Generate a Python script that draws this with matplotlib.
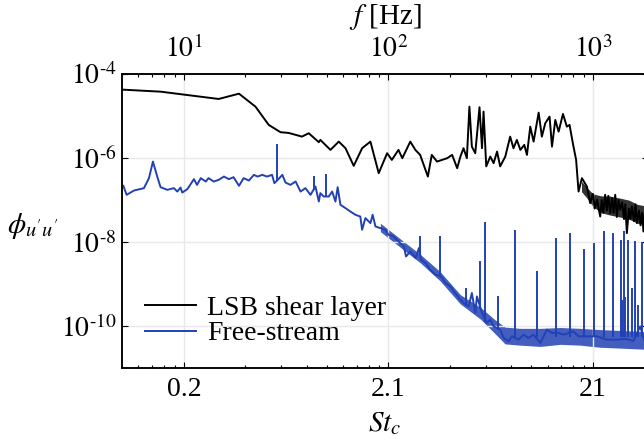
import numpy as np
import matplotlib.pyplot as plt
from matplotlib.ticker import LogLocator, NullFormatter, NullLocator

plt.rcParams['font.family'] = 'serif'
plt.rcParams['font.serif'] = ['Liberation Serif', 'DejaVu Serif']
plt.rcParams['mathtext.fontset'] = 'stix'

# ---- data (f in Hz, PSD as log10 exponent) ----
f_lsb = np.array([
    5.06, 7.69, 14.8, 18.6, 22.4, 26.0, 29.7, 32.5, 37.8, 40.8,
    45.7, 46.5, 52.1, 57.2, 61.7, 67.7, 74.4, 81.7, 89.7, 98.6,
    104, 112, 117, 128, 135.5, 143, 156, 163, 173, 183,
    194, 205, 217, 225, 233, 242, 249, 256, 266, 279,
    287, 292, 301, 315, 327, 340, 352, 373, 394, 409,
    425, 442, 462, 476, 494, 513, 543, 563, 585, 614,
    631, 655, 680, 714, 746, 769, 798, 828, 851, 884,
    935, 970, 1000, 1020, 1047, 1086, 1105, 1125, 1148, 1170,
    1190, 1216, 1240, 1262, 1286, 1310, 1335, 1361, 1390, 1420,
    1440, 1466, 1500, 1525, 1552, 1590, 1615, 1641, 1680, 1710,
    1740, 1767, 1790])
exp_lsb = np.array([
    -4.373, -4.42, -4.594, -4.468, -4.777, -5.211, -5.385, -5.401, -5.489, -5.409,
    -5.622, -5.568, -5.805, -5.608, -5.765, -6.185, -5.765, -5.608, -6.359, -5.884,
    -6.043, -5.805, -6.002, -5.608, -5.805, -5.924, -6.439, -5.924, -6.083, -6.043,
    -6.002, -5.924, -6.240, -5.964, -5.765, -6.002, -4.777, -5.727, -5.884, -4.791,
    -5.765, -4.895, -6.197, -5.964, -6.121, -5.846, -6.197, -5.964, -5.489, -5.765,
    -5.568, -5.805, -5.686, -5.924, -5.252, -5.608, -4.919, -5.489, -5.171, -5.014,
    -5.727, -5.093, -5.371, -4.950, -5.252, -5.211, -5.646, -6.043, -6.796, -6.477,
    -6.677, -7.071, -6.85, -7.2, -6.993, -7.390, -7.0, -7.3, -6.874, -7.25,
    -6.9, -7.309, -6.95, -7.3, -6.874, -7.4, -7.0, -7.230, -7.05, -7.45,
    -7.1, -7.784, -7.2, -7.45, -7.152, -7.5, -7.1, -7.546, -7.25, -7.6,
    -7.3, -7.746, -7.35])

# noisy tail band of the shear-layer spectrum
f_lsb_band = np.array([880, 935, 1000, 1100, 1200, 1350, 1500, 1650, 1860])
exp_lsb_hi = np.array([-6.55, -6.7, -6.85, -6.9, -6.9, -6.95, -7.0, -7.1, -7.15])
exp_lsb_lo = np.array([-6.8, -6.95, -7.15, -7.3, -7.35, -7.4, -7.45, -7.55, -7.6])

f_fs = np.array([
    5.06, 5.25, 5.70, 6.38, 6.75, 7.06, 7.41, 7.69, 8.30, 8.94,
    9.29, 9.63, 9.82, 10.4, 11.2, 11.6, 12.1, 12.8, 13.2, 14.0,
    14.8, 15.7, 16.6, 17.5, 18.6, 19.6, 20.8, 22.0, 22.9, 24.2,
    25.5, 27.0, 27.7, 28.8, 30.3, 31.4, 33.2, 35.2, 37.2, 39.3,
    41.6, 44.0, 45.7, 46.5, 48.3, 51.1, 53.1, 55.1, 56.5, 58.3,
    61.7, 65.2, 69.0, 72.9, 74.4, 77.2, 81.7, 83.8, 86.5, 91.4,
    96.6, 100.2, 106, 112, 119, 122, 128, 136, 141, 144.5,
    152, 160, 170, 181, 190, 201, 212, 225, 238, 247,
    256, 266, 271, 287, 303, 315, 327, 352, 366, 387,
    402, 433, 458, 484, 513, 553, 596, 631, 679, 718,
    804, 851, 935, 1047, 1170, 1310, 1450, 1580, 1703, 1790])
exp_fs = np.array([
    -6.660, -6.874, -6.772, -6.715, -6.477, -6.083, -6.439, -6.691, -6.755, -6.715,
    -6.796, -6.701, -6.820, -6.739, -6.501, -6.637, -6.477, -6.558, -6.477, -6.558,
    -6.518, -6.439, -6.501, -6.454, -6.660, -6.477, -6.534, -6.399, -6.439, -6.399,
    -6.439, -6.399, -6.596, -6.518, -6.399, -6.582, -6.637, -6.558, -6.796, -6.715,
    -6.874, -6.677, -7.033, -6.834, -6.914, -6.914, -6.796, -7.033, -6.691, -7.112,
    -7.190, -7.271, -7.349, -7.390, -7.705, -7.428, -7.546, -7.349, -7.627, -7.665,
    -7.705, -7.824, -7.865, -7.983, -8.102, -8.340, -8.221, -8.378, -8.140, -8.418,
    -8.496, -8.656, -8.774, -8.815, -8.972, -9.052, -9.209, -9.368, -9.487, -9.527,
    -9.209, -9.684, -9.290, -9.684, -9.922, -9.843, -10.002, -10.081, -10.278, -10.359,
    -10.240, -10.318, -10.200, -10.278, -10.200, -10.397, -10.081, -10.159, -10.159, -10.200,
    -10.121, -10.240, -10.240, -10.240, -10.318, -10.318, -10.30, -10.35, -10.002, -10.35])

# noise band of the free-stream spectrum
f_fs_band = np.array([91.4, 115, 144, 179, 225, 282, 333, 372, 442, 553, 693, 868, 1086, 1361, 1860])
exp_fs_hi = np.array([-7.55, -7.93, -8.30, -8.70, -9.25, -9.55, -9.85, -10.02,
                      -10.05, -10.05, -10.03, -10.05, -10.08, -10.10, -10.13])
exp_fs_lo = np.array([-7.75, -8.13, -8.50, -8.92, -9.47, -9.83, -10.18, -10.42,
                      -10.45, -10.48, -10.43, -10.45, -10.50, -10.52, -10.55])

# narrow tonal peaks of the free-stream spectrum
f_peaks = np.array([28.4, 43.2, 49.8, 142, 178, 240, 279, 298, 344, 417, 536, 660, 774,
                    900, 1015, 1136, 1261, 1370, 1390, 1422, 1440, 1493, 1560, 1611, 1660, 1745])
exp_peak_top = np.array([-5.663, -6.423, -6.375, -7.865, -7.848, -9.09, -8.458, -7.532, -9.290,
                         -7.722, -8.696, -7.903, -7.784, -8.164, -8.021, -7.746, -7.784, -7.943,
                         -9.37, -7.746, -9.3, -7.943, -9.1, -7.983, -9.5, -8.0])
exp_peak_base = np.array([-6.55, -6.75, -6.9, -8.3, -8.8, -9.5, -9.6, -9.9, -10.1,
                          -10.25, -10.25, -10.25, -10.25, -10.25, -10.25, -10.25, -10.25, -10.25,
                          -10.25, -10.25, -10.25, -10.25, -10.25, -10.25, -10.25, -10.25])

f_ticks = [10, 100, 1000]
st_labels = ['0.2', '2.1', '21']
f_labels = [r'$10^{1}$', r'$10^{2}$', r'$10^{3}$']
y_ticks = [1e-10, 1e-8, 1e-6, 1e-4]
y_labels = [r'$10^{\text{-10}}$', r'$10^{\text{-8}}$', r'$10^{\text{-6}}$', r'$10^{\text{-4}}$']

blue = '#2242b4'

# ---- figure ----
fig = plt.figure(figsize=(6.44, 4.46), dpi=100)
ax = fig.add_axes([122.3 / 644, 1 - 368.3 / 446, (648 - 122.3) / 644, (368.3 - 74) / 446])

ax.fill_between(f_lsb_band, 10 ** exp_lsb_lo, 10 ** exp_lsb_hi, color='black', alpha=0.8, lw=0)
ax.plot(f_lsb, 10 ** exp_lsb, color='black', lw=1.4, label='LSB shear layer')
ax.fill_between(f_fs_band, 10 ** exp_fs_lo, 10 ** exp_fs_hi, color=blue, alpha=0.85, lw=0)
ax.plot(f_fs, 10 ** exp_fs, color=blue, lw=1.4, label='Free-stream')
ax.vlines(f_peaks, 10 ** exp_peak_base, 10 ** exp_peak_top, color=blue, lw=1.4)

ax.set_xscale('log')
ax.set_yscale('log')
ax.set_xlim(5, 1860)
ax.set_ylim(1e-11, 1e-4)

ax.set_xticks(f_ticks)
ax.set_xticklabels(st_labels)
ax.xaxis.set_minor_locator(LogLocator(base=10, subs=np.arange(2, 10)))
ax.xaxis.set_minor_formatter(NullFormatter())
ax.set_yticks(y_ticks)
ax.set_yticklabels(y_labels)
ax.yaxis.set_minor_locator(NullLocator())

ax.tick_params(which='both', direction='in', right=True, labelsize=20, width=0.8)
ax.tick_params(axis='x', which='major', length=4.5, pad=6)
ax.tick_params(axis='y', which='major', length=4.5, pad=4)
ax.tick_params(which='minor', length=2.5)
ax.grid(True, which='major', color='#e8e8e8', lw=1)
for s in ax.spines.values():
    s.set_linewidth(1.1)

ax.set_xlabel(r'$St_c$', fontsize=21, labelpad=6)
ax.set_ylabel(r"$\phi_{u'u'}$", fontsize=21, rotation=0, ha='center', va='center')
ax.yaxis.set_label_coords(-0.170, 0.484)

# top axis in Hz
ax2 = ax.twiny()
ax2.set_xscale('log')
ax2.set_xlim(ax.get_xlim())
ax2.set_xticks(f_ticks)
ax2.set_xticklabels(f_labels)
ax2.xaxis.set_minor_locator(LogLocator(base=10, subs=np.arange(2, 10)))
ax2.xaxis.set_minor_formatter(NullFormatter())
ax2.tick_params(which='both', direction='in', labelsize=20, width=0.8)
ax2.tick_params(which='major', length=4.5, pad=8)
ax2.tick_params(which='minor', length=2.5)
ax2.set_xlabel(r'$f$ [Hz]', fontsize=21, labelpad=8)
for s in ax2.spines.values():
    s.set_linewidth(1.1)

ax.legend(loc='center left', bbox_to_anchor=(0.043, 0.161), frameon=False, fontsize=20,
          handlelength=1.85, handletextpad=0.4, labelspacing=0.0, borderpad=0, borderaxespad=0)

fig.savefig('out.png', dpi=100)
